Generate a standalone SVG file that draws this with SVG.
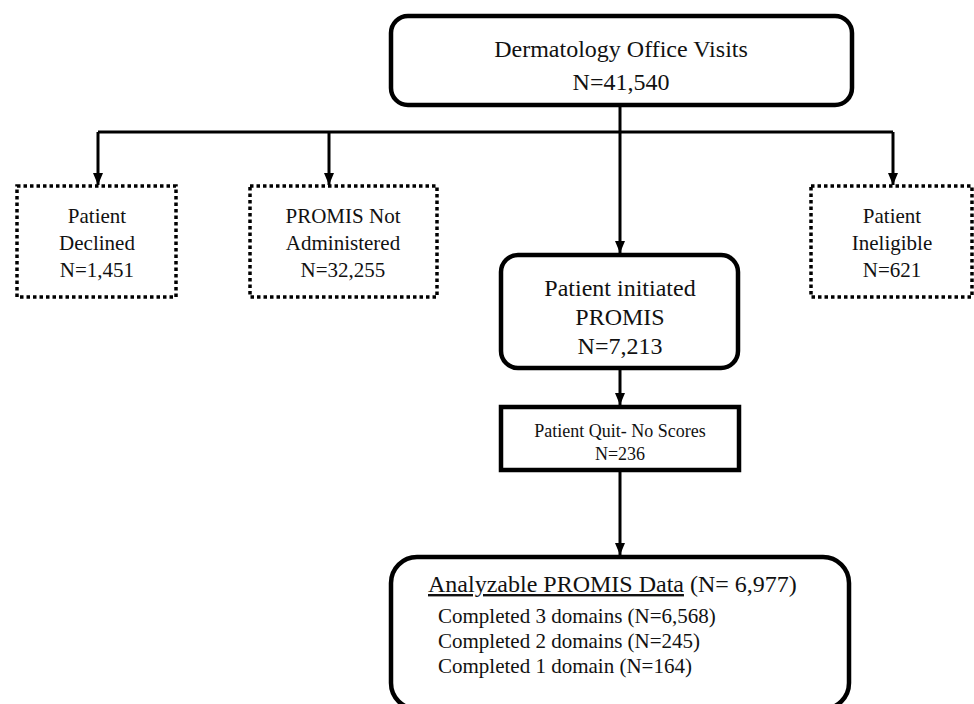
<svg xmlns="http://www.w3.org/2000/svg" width="974" height="704" viewBox="0 0 974 704">
<defs>
<marker id="arr" viewBox="0 0 12 10" refX="12" refY="5" markerWidth="12" markerHeight="10" markerUnits="userSpaceOnUse" orient="auto">
<path d="M0,0 L12,5 L0,10 Z" fill="#000"/>
</marker>
<style>
.t{font-family:"Liberation Serif","Times New Roman",serif;fill:#111;text-anchor:middle}
.l{font-family:"Liberation Serif","Times New Roman",serif;fill:#111;text-anchor:start}
.solid{fill:#fff;stroke:#000;stroke-width:4.5}
.dot{fill:#fff;stroke:#000;stroke-width:3.5;stroke-dasharray:3.5 3}
.ln{fill:none;stroke:#000;stroke-width:3}
</style>
</defs>
<rect width="974" height="704" fill="#fff"/>
<g id="connectors">
<path class="ln" d="M620,106 V132"/>
<path class="ln" d="M98,132 H893"/>
<path class="ln" d="M98,132 V185" marker-end="url(#arr)"/>
<path class="ln" d="M329,132 V185" marker-end="url(#arr)"/>
<path class="ln" d="M893,132 V185" marker-end="url(#arr)"/>
<path class="ln" d="M620,132 V253" marker-end="url(#arr)"/>
<path class="ln" d="M620,368 V405" marker-end="url(#arr)"/>
<path class="ln" d="M620,470 V555" marker-end="url(#arr)"/>
</g>
<g id="visits">
<rect class="solid" x="391" y="16" width="461" height="89" rx="17"/>
<text class="t" x="621" y="57" font-size="24">Dermatology Office Visits</text>
<text class="t" x="621" y="90" font-size="24">N=41,540</text>
</g>
<g id="declined">
<rect class="dot" x="17" y="186" width="159" height="111"/>
<text class="t" x="97" y="223" font-size="21">Patient</text>
<text class="t" x="97" y="250" font-size="21">Declined</text>
<text class="t" x="97" y="277" font-size="21">N=1,451</text>
</g>
<g id="notadmin">
<rect class="dot" x="250" y="186" width="187" height="111"/>
<text class="t" x="343" y="223" font-size="21">PROMIS Not</text>
<text class="t" x="343" y="250" font-size="21">Administered</text>
<text class="t" x="343" y="277" font-size="21">N=32,255</text>
</g>
<g id="ineligible">
<rect class="dot" x="811" y="186" width="161" height="111"/>
<text class="t" x="892" y="223" font-size="21">Patient</text>
<text class="t" x="892" y="250" font-size="21">Ineligible</text>
<text class="t" x="892" y="277" font-size="21">N=621</text>
</g>
<g id="initiated">
<rect class="solid" x="501" y="255" width="237" height="113" rx="17"/>
<text class="t" x="620" y="296" font-size="24">Patient initiated</text>
<text class="t" x="620" y="325" font-size="24">PROMIS</text>
<text class="t" x="620" y="354" font-size="24">N=7,213</text>
</g>
<g id="quit">
<rect class="solid" x="501" y="407" width="238" height="63"/>
<text class="t" x="620" y="437" font-size="18">Patient Quit- No Scores</text>
<text class="t" x="620" y="460" font-size="18">N=236</text>
</g>
<g id="analyzable">
<rect class="solid" x="391" y="557" width="458" height="152" rx="26"/>
<text class="l" x="428" y="592" font-size="24"><tspan text-decoration="underline">Analyzable PROMIS Data</tspan> (N= 6,977)</text>
<text class="l" x="438" y="623" font-size="21">Completed 3 domains (N=6,568)</text>
<text class="l" x="438" y="648" font-size="21">Completed 2 domains (N=245)</text>
<text class="l" x="438" y="673" font-size="21">Completed 1 domain (N=164)</text>
</g>
</svg>
